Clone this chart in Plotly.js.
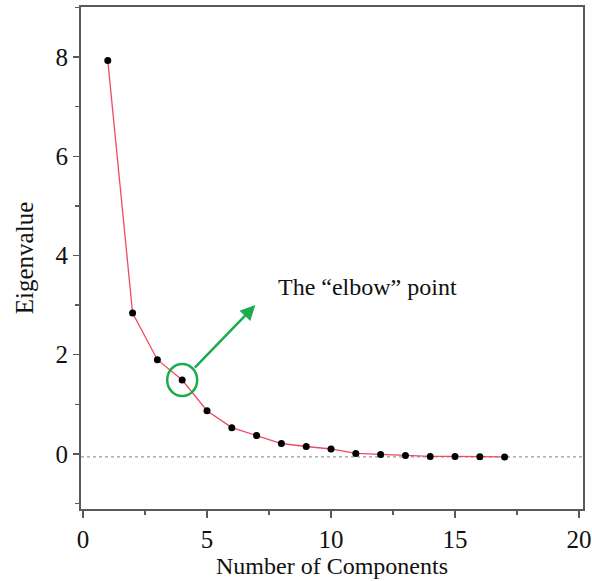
<!DOCTYPE html>
<html>
<head>
<meta charset="utf-8">
<script src="https://cdn.plot.ly/plotly-3.0.1.min.js"></script>
<style>html,body{margin:0;padding:0;background:#fff;}</style>
</head>
<body>
<div id="chart" style="width:592px;height:581px;"></div>
<script>
const components = [1,2,3,4,5,6,7,8,9,10,11,12,13,14,15,16,17];
const eigenvalues = [7.93,2.84,1.90,1.49,0.87,0.53,0.37,0.21,0.15,0.10,0.01,-0.01,-0.03,-0.05,-0.05,-0.055,-0.06];
const xTicks = [0,5,10,15,20];
const yTicks = [0,2,4,6,8];
const referenceLevel = -0.06;
const elbowIndex = 3;
const annotationText = 'The \u201celbow\u201d point';

const font = 'Liberation Serif, Times New Roman, serif';
const axisColor = '#5a5a5a';

const trace = {
  x: components,
  y: eigenvalues,
  mode: 'lines+markers',
  line: {color: '#f04a62', width: 1.3},
  marker: {color: '#000', size: 7},
  hoverinfo: 'skip'
};

const layout = {
  width: 592, height: 581,
  margin: {l: 81, r: 9, t: 7, b: 72},
  paper_bgcolor: '#fff', plot_bgcolor: '#fff',
  showlegend: false,
  font: {family: font, size: 24, color: '#111'},
  xaxis: {
    range: [-0.08, 20.16],
    tickvals: xTicks, ticktext: xTicks.map(String),
    ticks: 'outside', ticklen: 7, tickwidth: 1.5, tickcolor: axisColor,
    minor: {dtick: 2.5, tick0: 0, ticks: 'outside', ticklen: 4, tickcolor: axisColor, tickwidth: 1.5},
    showline: true, mirror: true, linecolor: axisColor, linewidth: 2,
    showgrid: false, zeroline: false,
    tickfont: {family: font, size: 25, color: '#111'},
    title: {text: 'Number of Components', font: {family: font, size: 24, color: '#111'}, standoff: 0}
  },
  yaxis: {
    range: [-1.11, 9.01],
    tickvals: yTicks, ticktext: yTicks.map(String),
    ticks: 'outside', ticklen: 6, tickwidth: 1.5, tickcolor: axisColor,
    minor: {dtick: 1, tick0: 0, ticks: 'outside', ticklen: 4, tickcolor: axisColor, tickwidth: 1.5},
    showline: true, mirror: true, linecolor: axisColor, linewidth: 2,
    showgrid: false, zeroline: false,
    tickfont: {family: font, size: 25, color: '#111'},
    title: {text: 'Eigenvalue', font: {family: font, size: 25, color: '#111'}, standoff: 15}
  },
  shapes: [
    {type: 'line', xref: 'paper', x0: 0, x1: 1, yref: 'y', y0: referenceLevel, y1: referenceLevel,
     line: {color: '#999', width: 1.2, dash: 'dot'}, layer: 'below'},
    {type: 'circle', xref: 'x', yref: 'y', xsizemode: 'pixel', ysizemode: 'pixel',
     xanchor: components[elbowIndex], yanchor: eigenvalues[elbowIndex],
     x0: -15, x1: 15, y0: -16, y1: 16,
     line: {color: '#1aac4e', width: 2.5}}
  ],
  annotations: [
    {x: 6.95, y: 3.0, xref: 'x', yref: 'y', text: '', showarrow: true,
     axref: 'pixel', ayref: 'pixel', ax: -62, ay: 64,
     arrowhead: 2, arrowsize: 1.2, arrowwidth: 2.5, arrowcolor: '#1aac4e', standoff: 0, startstandoff: 0},
    {x: 7.78, y: 3.37, xref: 'x', yref: 'y', xanchor: 'left', yanchor: 'middle',
     text: annotationText, showarrow: false,
     font: {family: font, size: 24, color: '#111'}}
  ]
};

Plotly.newPlot('chart', [trace], layout, {staticPlot: true, displayModeBar: false});
</script>
</body>
</html>
